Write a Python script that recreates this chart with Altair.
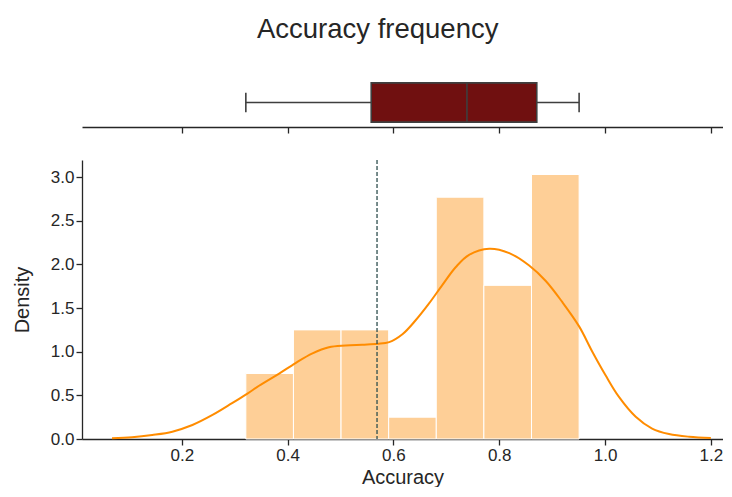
import altair as alt
import pandas as pd

# ---- data ----
bin_left = [0.321, 0.411, 0.501, 0.591, 0.681, 0.771, 0.861]
bin_right = [0.411, 0.501, 0.591, 0.681, 0.771, 0.861, 0.951]
bin_density = [0.75, 1.25, 1.25, 0.25, 2.77, 1.76, 3.03]

kde_x = [0.068, 0.106, 0.144, 0.182, 0.220, 0.258, 0.295, 0.324, 0.346, 0.384,
         0.415, 0.447, 0.478, 0.510, 0.541, 0.570, 0.592, 0.617, 0.642, 0.667,
         0.692, 0.718, 0.743, 0.781, 0.819, 0.856, 0.888, 0.919, 0.951, 0.976,
         1.001, 1.026, 1.058, 1.089, 1.121, 1.159, 1.200]
kde_y = [0.008, 0.02, 0.046, 0.084, 0.16, 0.275, 0.41, 0.52, 0.61, 0.75,
         0.87, 0.98, 1.05, 1.07, 1.08, 1.09, 1.11, 1.20, 1.36, 1.55,
         1.76, 1.97, 2.11, 2.18, 2.13, 1.99, 1.81, 1.57, 1.29, 1.00,
         0.73, 0.485, 0.255, 0.12, 0.057, 0.026, 0.012]

whisker_low = [0.321]
q1 = [0.558]
median = [0.739]
q3 = [0.871]
whisker_high = [0.951]
mean_value = [0.569]

x_ticks = [0.2, 0.4, 0.6, 0.8, 1.0, 1.2]
y_ticks = [0.0, 0.5, 1.0, 1.5, 2.0, 2.5, 3.0]

# ---- tables ----
hist_df = pd.DataFrame({"left": bin_left, "right": bin_right, "density": bin_density})
kde_df = pd.DataFrame({"x": kde_x, "y": kde_y})
box_df = pd.DataFrame({"q1": q1, "q3": q3, "median": median,
                       "wl": whisker_low, "wh": whisker_high,
                       "lo": [-0.4], "hi": [0.4], "clo": [-0.2], "chi": [0.2], "mid": [0.0]})
mean_df = pd.DataFrame({"mean": mean_value})

W = 641
H_MAIN = 279
H_BOX = 49
DARK = "#262626"
EDGE = "#3f3f3f"

x_scale = alt.Scale(domain=[0.0113, 1.2230], nice=False, zero=False)
box_y_scale = alt.Scale(domain=[-0.5, 0.5], nice=False, zero=False)

# ---- box panel ----
bx = alt.X("q1:Q", scale=x_scale,
           axis=alt.Axis(values=x_ticks, labels=False, title=None, tickSize=6))
box_base = alt.Chart(box_df)
box_rect = box_base.mark_rect(fill="#701010", stroke=EDGE, strokeWidth=1.6).encode(
    x=bx, x2="q3:Q",
    y=alt.Y("lo:Q", scale=box_y_scale, axis=None), y2="hi:Q")
whisk_l = box_base.mark_rule(color=EDGE, strokeWidth=1.6).encode(
    x=alt.X("wl:Q", scale=x_scale), x2="q1:Q", y=alt.Y("mid:Q", scale=box_y_scale))
whisk_r = box_base.mark_rule(color=EDGE, strokeWidth=1.6).encode(
    x=alt.X("q3:Q", scale=x_scale), x2="wh:Q", y=alt.Y("mid:Q", scale=box_y_scale))
cap_l = box_base.mark_rule(color=EDGE, strokeWidth=1.6).encode(
    x=alt.X("wl:Q", scale=x_scale), y=alt.Y("clo:Q", scale=box_y_scale), y2="chi:Q")
cap_r = box_base.mark_rule(color=EDGE, strokeWidth=1.6).encode(
    x=alt.X("wh:Q", scale=x_scale), y=alt.Y("clo:Q", scale=box_y_scale), y2="chi:Q")
med = box_base.mark_rule(color=EDGE, strokeWidth=1.6).encode(
    x=alt.X("median:Q", scale=x_scale), y=alt.Y("lo:Q", scale=box_y_scale), y2="hi:Q")

box_panel = alt.layer(box_rect, whisk_l, whisk_r, cap_l, cap_r, med).properties(
    width=W, height=H_BOX)

# ---- main panel ----
bars = alt.Chart(hist_df).mark_rect(fill="#fecf97", stroke="white", strokeWidth=1).encode(
    x=alt.X("left:Q", scale=x_scale,
            axis=alt.Axis(values=x_ticks, format=".1f", title="Accuracy", tickSize=6,
                          labelPadding=2, titlePadding=4)),
    x2="right:Q",
    y=alt.Y("density:Q", scale=alt.Scale(domain=[0, 3.196], nice=False),
            axis=alt.Axis(values=y_ticks, format=".1f", title="Density", tickSize=6,
                          labelPadding=2, titlePadding=18)),
    y2=alt.datum(0))

kde = alt.Chart(kde_df).mark_line(color="#ff8c00", strokeWidth=2, interpolate="catmull-rom").encode(
    x=alt.X("x:Q", scale=x_scale), y=alt.Y("y:Q"))

mean_rule = alt.Chart(mean_df).mark_rule(color="#2f4f4f", strokeWidth=1.3, strokeDash=[4, 2]).encode(
    x=alt.X("mean:Q", scale=x_scale), y=alt.value(0), y2=alt.value(H_MAIN))

main_panel = alt.layer(bars, kde, mean_rule).properties(width=W, height=H_MAIN)

chart = alt.vconcat(box_panel, main_panel, spacing=25).properties(
    title=alt.TitleParams("Accuracy frequency", fontSize=27.5, fontWeight="normal",
                          color=DARK, anchor="middle", offset=35, dx=10),
    padding={"left": 4, "top": 7, "right": 0, "bottom": 0},
).configure_view(stroke=None).configure_axis(
    grid=False, domainColor=DARK, tickColor=DARK, labelColor=DARK, titleColor=DARK,
    domainWidth=1.3, tickWidth=1.3,
    labelFont="Liberation Sans", titleFont="Liberation Sans",
    labelFontSize=17, titleFontSize=20, titleFontWeight="normal",
).configure_title(font="Liberation Sans")

chart.save("out.html", embed_options={"renderer": "svg", "actions": False})
